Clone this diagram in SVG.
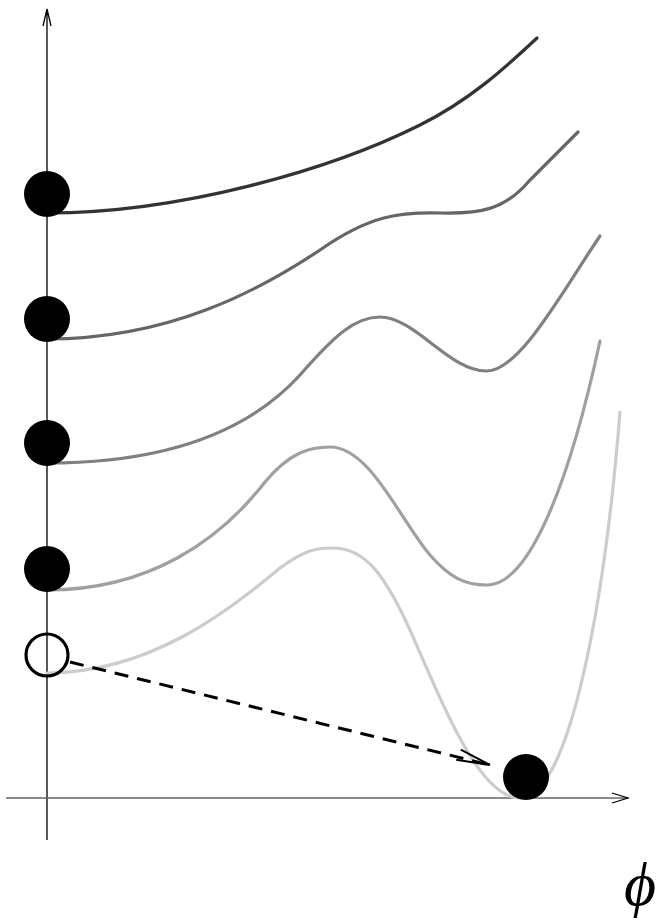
<svg xmlns="http://www.w3.org/2000/svg" width="661" height="921" viewBox="0 0 661 921">
<defs>
<style>
.curve{fill:none;stroke-width:3.2;stroke-linecap:round}
.ball{fill:#000}
.ax{fill:none;stroke-width:1.3}
</style>
<marker id="dash-head" markerWidth="40" markerHeight="20" refX="36" refY="10" orient="auto" markerUnits="userSpaceOnUse">
<path d="M4,2 L36,10 M36,10 L2,13" fill="none" stroke="#000" stroke-width="2"/>
</marker>
</defs>
<rect width="661" height="921" fill="#fff"/>
<g id="axes">
<path class="ax" stroke="#000" d="M47,840 V9 M43,26 L47,9 L51,26"/>
<path class="ax" stroke="#666" d="M6,798 H628"/>
<path class="ax" stroke="#000" d="M612,793 L628,798 L612,803"/>
</g>
<g id="curves">
<path class="curve" stroke="#333" d="M47,213 C180,213 330,170 420,125 C470,100 505,68 537,38"/>
<path class="curve" stroke="#666" d="M47,339 C170,339 260,290 320,250 C370,215 400,212 440,213 C480,214 505,210 530,180 C545,165 560,150 578,132"/>
<path class="curve" stroke="#808080" d="M47,463 C170,463 250,430 300,375 C335,335 355,317 380,317 C415,317 450,372 487,371 C520,370 560,295 600,236"/>
<path class="curve" stroke="#a0a0a0" d="M47,590 C150,590 220,540 265,482 C290,452 310,447 330,447 C370,447 400,520 430,555 C450,578 465,585 487,585 C530,585 570,480 600,341"/>
<path class="curve" stroke="#ccc" d="M47,673 C150,673 230,610 280,568 C305,550 315,548 333,548 C365,548 385,575 410,630 C445,710 480,798 520,798 C570,798 605,600 620,412"/>
</g>
<g id="connectors">
<path d="M70,662 L490,765" fill="none" stroke="#000" stroke-width="3" stroke-dasharray="14,9" marker-end="url(#dash-head)"/>
</g>
<g id="ball1"><circle class="ball" cx="47" cy="194" r="23"/></g>
<g id="ball2"><circle class="ball" cx="47" cy="319" r="23"/></g>
<g id="ball3"><circle class="ball" cx="47" cy="443" r="23"/></g>
<g id="ball4"><circle class="ball" cx="47" cy="569" r="23"/></g>
<g id="ball-empty"><circle cx="47" cy="655" r="21" fill="none" stroke="#000" stroke-width="3.2"/></g>
<g id="ball-final"><circle class="ball" cx="526" cy="777" r="23"/></g>
<g id="label"><text x="624" y="905" font-family="Liberation Serif, serif" font-style="italic" font-size="62" fill="#000">ϕ</text></g>
</svg>
